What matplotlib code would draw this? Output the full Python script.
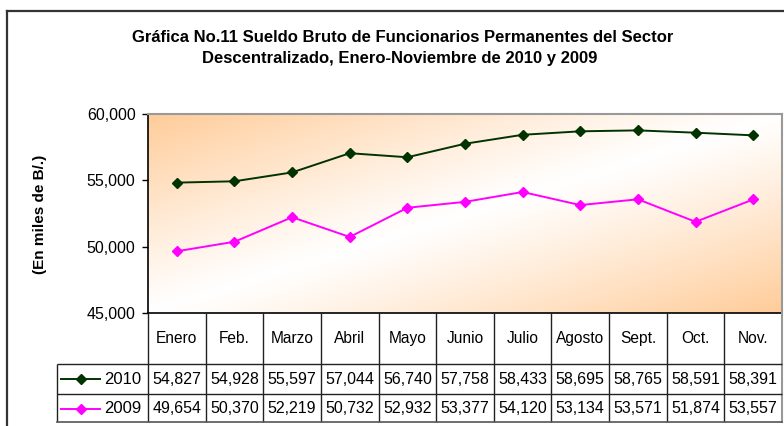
import matplotlib
matplotlib.use("Agg")
import matplotlib.pyplot as plt
import numpy as np
from matplotlib.lines import Line2D
from matplotlib.ticker import FuncFormatter

# Monthly gross salaries of permanent staff (thousands of B/.)
months = ["Enero", "Feb.", "Marzo", "Abril", "Mayo", "Junio", "Julio",
          "Agosto", "Sept.", "Oct.", "Nov."]
sueldo_2010 = [54827, 54928, 55597, 57044, 56740, 57758, 58433, 58695, 58765, 58591, 58391]
sueldo_2009 = [49654, 50370, 52219, 50732, 52932, 53377, 54120, 53134, 53571, 51874, 53557]
series_labels = ["2010", "2009"]
y_ticks = [45000, 50000, 55000, 60000]

plt.rcParams['font.family'] = ['Liberation Sans', 'DejaVu Sans']

W, H = 784, 426
fig = plt.figure(figsize=(W / 100, H / 100), dpi=100)


def fx(px):
    return px / W


def fy(py):
    return 1 - py / H


# plot area in pixel layout
L, R, T, B = 148, 782, 114, 313
ax = fig.add_axes([fx(L), fy(B), fx(R) - fx(L), fy(T) - fy(B)])
n = len(months)
x = np.arange(n)
ax.set_xlim(-0.5, n - 0.5)
ax.set_ylim(y_ticks[0], y_ticks[-1])

# diagonal orange-white-orange fill
u = np.linspace(0, 1, 500)
v = np.linspace(0, 1, 200)
U, V = np.meshgrid(u, v)
w = np.abs(U + V - 1) ** 1.1
orange = np.array([255, 204, 153]) / 255
white = np.array([1.0, 1.0, 1.0])
img = white[None, None, :] * (1 - w[..., None]) + orange[None, None, :] * w[..., None]
ax.imshow(img, extent=(-0.5, n - 0.5, y_ticks[0], y_ticks[-1]), aspect='auto',
          origin='upper', zorder=0, interpolation='bilinear')

colors = ['#003300', '#FF00FF']
msizes = [5.0, 5.6]
for vals, c, ms in zip([sueldo_2010, sueldo_2009], colors, msizes):
    ax.plot(x, vals, color=c, lw=1.4, marker='D', ms=ms, mec=c, mfc=c, zorder=3)

ax.set_yticks(y_ticks)
ax.yaxis.set_major_formatter(FuncFormatter(lambda val, pos: f"{int(val):,}"))
ax.set_xticks([])
ax.tick_params(axis='y', direction='out', length=4, width=1, labelsize=11.5, pad=5,
               colors='black')
for side in ['left', 'bottom']:
    ax.spines[side].set_color('black')
    ax.spines[side].set_linewidth(1.2)
for side in ['top', 'right']:
    ax.spines[side].set_color('#999999')
    ax.spines[side].set_linewidth(1.5)

# data table under the plot area, x shared with category slots
TB = 422
rows_y = [313, 364, 394, TB]
tax = fig.add_axes([fx(L), fy(TB), fx(R) - fx(L), fy(B) - fy(TB)])
tax.set_xlim(-0.5, n - 0.5)
tax.set_ylim(TB, B)
tax.axis('off')
cw = (R - L) / n


def dx(px):
    return -0.5 + (px - L) / cw


lab_left = dx(57)
grid_kw = dict(color='#222222', lw=1.0, clip_on=False, solid_capstyle='butt')
for i in range(n):
    tax.plot([i - 0.5, i - 0.5], [rows_y[0], rows_y[-1]], **grid_kw)
tax.plot([n - 0.5, n - 0.5], [rows_y[0], rows_y[-1]], color='#999999', lw=1.5,
         clip_on=False)
tax.plot([lab_left, lab_left], [rows_y[1], rows_y[-1]], **grid_kw)
for yy in rows_y[1:3]:
    tax.plot([lab_left, n - 0.5], [yy, yy], **grid_kw)
tax.plot([lab_left, n - 0.5], [rows_y[-1], rows_y[-1]], color='#555555', lw=1.2,
         clip_on=False)

fs = 11.5
hy = (rows_y[0] + rows_y[1]) / 2
for i, m in enumerate(months):
    tax.text(i, hy, m, ha='center', va='center', fontsize=11.2, clip_on=False)

for r, (vals, lab, c, ms) in enumerate(zip([sueldo_2010, sueldo_2009], series_labels,
                                            colors, msizes)):
    yy = (rows_y[r + 1] + rows_y[r + 2]) / 2 + 0.5
    for i, val in enumerate(vals):
        tax.text(i, yy, f"{val:,}", ha='center', va='center', fontsize=fs, clip_on=False)
    tax.plot([dx(61), dx(100)], [yy, yy], color=c, lw=1.4, clip_on=False)
    tax.plot([dx(80.5)], [yy], marker='D', ms=ms, color=c, clip_on=False)
    tax.text(dx(141), yy, lab, ha='right', va='center', fontsize=fs + 0.5, clip_on=False)

# titles
title_kw = dict(ha='center', va='center', fontsize=12, fontweight='bold')
fig.text(fx(403), fy(38), "Gráfica No.11 Sueldo Bruto de Funcionarios Permanentes del Sector",
         **title_kw)
fig.text(fx(400), fy(58), "Descentralizado, Enero-Noviembre de 2010 y 2009", **title_kw)
fig.text(fx(40), fy(214), "(En miles de B/.)", rotation=90, ha='center', va='center',
         fontsize=11, fontweight='bold')

# outer chart frame
frame_kw = dict(color='#333333', lw=1.6, transform=fig.transFigure)
fig.add_artist(Line2D([fx(7), fx(7)], [fy(11), 0], **frame_kw))
fig.add_artist(Line2D([fx(7), 1], [fy(11), fy(11)], **frame_kw))

fig.savefig("out.png", dpi=100)
